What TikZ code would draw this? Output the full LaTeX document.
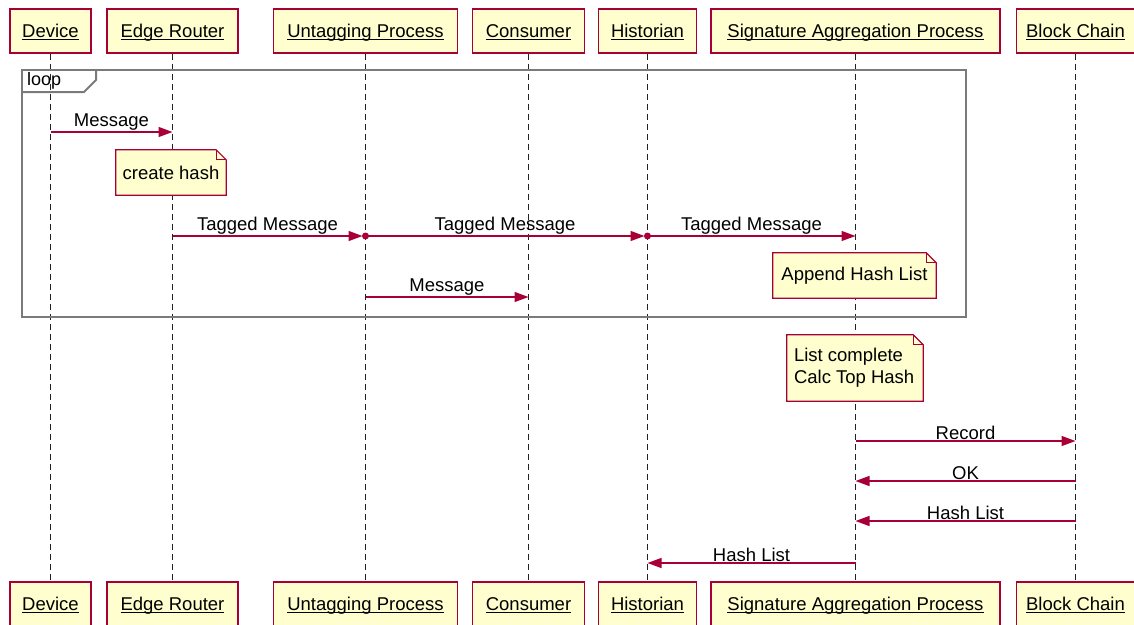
\documentclass[tikz,border=0pt]{standalone}
\usepackage{amsmath}
\usepackage{fontspec}
\setmainfont{Liberation Sans}
\usetikzlibrary{arrows.meta}
\definecolor{pline}{HTML}{A80036}
\definecolor{pfill}{HTML}{FEFECE}
\definecolor{framec}{HTML}{7A7A7A}
\definecolor{lifec}{HTML}{222222}
\newcommand\pul[1]{\underline{\smash[b]{#1}}}
\tikzset{
  participant/.style={draw=pline, fill=pfill, line width=1.3pt, minimum height=44pt, inner sep=0pt, text height=14pt, text depth=2pt, font=\fontsize{18.5}{22}\selectfont},
  lifeline/.style={draw=lifec, line width=1.4pt, dash pattern=on 6pt off 4pt},
  msg/.style={draw=pline, line width=1.4pt, -{Triangle[length=14pt,width=10pt]}},
  msglabel/.style={font=\fontsize{18.5}{22}\selectfont, above=0pt, midway, inner sep=0.5pt},
  notetext/.style={inner sep=0pt, font=\fontsize{18.5}{22}\selectfont, align=left},
  notebox/.style={draw=pline, fill=pfill, line width=1.2pt},
  frameline/.style={draw=framec, line width=2pt},
  startdot/.style={fill=pline, draw=none, circle, minimum size=7pt, inner sep=0pt}
}
\begin{document}
\begin{tikzpicture}[x=1pt,y=-1pt]
\useasboundingbox (0,0) rectangle (1134,624);
% participants top
\node[participant, minimum width=81pt]  (dT) at (50.5,31) {\pul{Device}};
\node[participant, minimum width=131pt] (eT) at (172.5,31) {\pul{Edge Router}};
\node[participant, minimum width=184pt] (uT) at (365.5,31) {\pul{Untagging Process}};
\node[participant, minimum width=112pt] (cT) at (528.5,31) {\pul{Consumer}};
\node[participant, minimum width=98pt]  (hT) at (647.5,31) {\pul{Historian}};
\node[participant, minimum width=289pt] (sT) at (855.5,31) {\pul{Signature Aggregation Process}};
\node[participant, minimum width=118pt] (bT) at (1075.5,31) {\pul{Block Chain}};
% participants bottom
\node[participant, minimum width=81pt]  (dB) at (50.5,604) {\pul{Device}};
\node[participant, minimum width=131pt] (eB) at (172.5,604) {\pul{Edge Router}};
\node[participant, minimum width=184pt] (uB) at (365.5,604) {\pul{Untagging Process}};
\node[participant, minimum width=112pt] (cB) at (528.5,604) {\pul{Consumer}};
\node[participant, minimum width=98pt]  (hB) at (647.5,604) {\pul{Historian}};
\node[participant, minimum width=289pt] (sB) at (855.5,604) {\pul{Signature Aggregation Process}};
\node[participant, minimum width=118pt] (bB) at (1075.5,604) {\pul{Block Chain}};
% lifelines
\foreach \p in {d,e,u,c,h,s,b}{
  \draw[lifeline] (\p T.south) -- (\p B.north);
}
% loop frame
\draw[frameline] (22,70) rectangle (966,317);
\draw[frameline] (22,92) -- (84,92) -- (96,80) -- (96,70);
\node[font=\fontsize{18}{22}\selectfont, anchor=west, inner sep=0pt] (looplbl) at (27,81) {loop};
% message rows
\coordinate (r1) at (0,132);
\coordinate (r2) at (0,236);
\coordinate (r3) at (0,297);
\coordinate (r4) at (0,441);
\coordinate (r5) at (0,481);
\coordinate (r6) at (0,521);
\coordinate (r7) at (0,563);
% messages
\draw[msg] (dT |- r1) -- (eT |- r1) node[msglabel] {Message};
% note create hash
\node[notetext, minimum width=110pt, minimum height=45pt] (n1) at (171,172.5) {};
\filldraw[notebox] (n1.north west) -- ([xshift=-10pt]n1.north east) -- ([yshift=-10pt]n1.north east) -- (n1.south east) -- (n1.south west) -- cycle;
\draw[notebox, fill=none] ([xshift=-10pt]n1.north east) -- ([xshift=-10pt,yshift=-10pt]n1.north east) -- ([yshift=-10pt]n1.north east);
\node[notetext] at (n1) {create hash};
% tagged messages
\draw[msg] (eT |- r2) -- ([xshift=-3pt]uT |- r2) node[msglabel] {Tagged Message};
\draw[msg] (uT |- r2) -- ([xshift=-3pt]hT |- r2) node[msglabel] {Tagged Message};
\node[startdot] (dot1) at (uT |- r2) {};
\draw[msg] (hT |- r2) -- (sT |- r2) node[msglabel] {Tagged Message};
\node[startdot] (dot2) at (hT |- r2) {};
% note append hash list
\node[notetext, minimum width=163pt, minimum height=45pt] (n2) at (854.5,275.5) {};
\filldraw[notebox] (n2.north west) -- ([xshift=-10pt]n2.north east) -- ([yshift=-10pt]n2.north east) -- (n2.south east) -- (n2.south west) -- cycle;
\draw[notebox, fill=none] ([xshift=-10pt]n2.north east) -- ([xshift=-10pt,yshift=-10pt]n2.north east) -- ([yshift=-10pt]n2.north east);
\node[notetext] at (n2) {Append Hash List};
% message untagging -> consumer
\draw[msg] (uT |- r3) -- (cT |- r3) node[msglabel] {Message};
% note list complete
\node[notetext, minimum width=136pt, minimum height=66pt] (n3) at (855,368) {};
\filldraw[notebox] (n3.north west) -- ([xshift=-10pt]n3.north east) -- ([yshift=-10pt]n3.north east) -- (n3.south east) -- (n3.south west) -- cycle;
\draw[notebox, fill=none] ([xshift=-10pt]n3.north east) -- ([xshift=-10pt,yshift=-10pt]n3.north east) -- ([yshift=-10pt]n3.north east);
\node[notetext, anchor=west] at ([xshift=7pt]n3.west) {List complete\\Calc Top Hash};
% block chain messages
\draw[msg] (sT |- r4) -- (bT |- r4) node[msglabel] {Record};
\draw[msg] (bT |- r5) -- (sT |- r5) node[msglabel] {OK};
\draw[msg] (bT |- r6) -- (sT |- r6) node[msglabel] {Hash List};
\draw[msg] (sT |- r7) -- (hT |- r7) node[msglabel] {Hash List};
\end{tikzpicture}
\end{document}
